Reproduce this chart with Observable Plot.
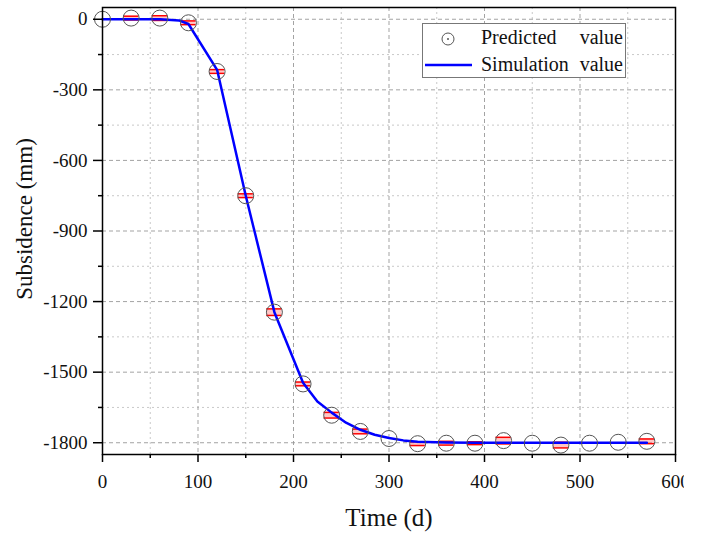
<!DOCTYPE html>
<html>
<head>
<meta charset="utf-8">
<script src="https://cdn.jsdelivr.net/npm/d3@7"></script>
<script src="https://cdn.jsdelivr.net/npm/@observablehq/plot@0.6"></script>
<style>
  body { margin: 0; background: #fff; }
  #wrap { position: relative; width: 684px; height: 544px; overflow: hidden; font-family: "Liberation Serif", "Times New Roman", serif; }
  #chart { width: 706px; height: 544px; }
  #chart svg { max-width: none !important; }
  #legend { position: absolute; left: 422px; top: 23px; width: 204px; height: 55px; border: 1px solid #777; background: #fff; box-sizing: border-box; }
  .lrow { position: absolute; left: 0; font-size: 20px; color: #111; white-space: pre; }
</style>
</head>
<body>
<div id="wrap">
  <div id="chart"></div>
  <div id="legend">
    <svg width="204" height="55" style="position:absolute;left:0;top:0">
      <circle cx="25" cy="15" r="6" fill="none" stroke="#555" stroke-width="1"></circle>
      <circle cx="25" cy="15" r="1" fill="#555"></circle>
      <line x1="2" x2="49" y1="41" y2="41" stroke="#0000ff" stroke-width="2.5"></line>
    </svg>
    <div class="lrow" style="left:58px;top:2px;width:142px;display:flex;justify-content:space-between"><span>Predicted</span><span>value</span></div>
    <div class="lrow" style="left:58px;top:29px;width:142px;display:flex;justify-content:space-between"><span>Simulation</span><span>value</span></div>
  </div>
</div>
<script>
// Data
const times = [0, 30, 60, 90, 120, 150, 180, 210, 240, 270, 300, 330, 360, 390, 420, 450, 480, 510, 540, 570];
const predicted = [0, 5, 5, -15, -222, -750, -1245, -1550, -1683, -1752, -1782, -1804, -1802, -1802, -1791, -1802, -1810, -1802, -1798, -1794];
const errorHalf = [0, 8, 10, 8, 8, 8, 14, 8, 12, 10, 0, 8, 8, 6, 14, 0, 12, 0, 0, 10];
const simTimes = [0, 30, 60, 80, 90, 120, 150, 180, 210, 225, 240, 255, 270, 285, 300, 315, 330, 360, 390, 420, 450, 480, 510, 540, 570];
const simulation = [0, 0, 0, -5, -20, -215, -750, -1245, -1545, -1625, -1672, -1715, -1745, -1766, -1780, -1790, -1796, -1799, -1800, -1800, -1800, -1800, -1800, -1800, -1800];
const xMajor = [0, 100, 200, 300, 400, 500, 600];
const xMinor = [50, 150, 250, 350, 450, 550];
const yMajor = [0, -300, -600, -900, -1200, -1500, -1800];
const yMinor = [-150, -450, -750, -1050, -1350, -1650];

const pts = times.map((t, i) => ({t, v: predicted[i], e: errorHalf[i]}));
const sim = simTimes.map((t, i) => ({t, v: simulation[i]}));
const errPts = pts.filter(d => d.e > 0);
const barHalfW = 8;
const serif = "Liberation Serif";

const chart = Plot.plot({
  width: 706,
  height: 544,
  marginLeft: 102,
  marginRight: 31,
  marginTop: 7,
  marginBottom: 90,
  style: {fontFamily: serif, fontSize: "19px", color: "#111", background: "#fff", maxWidth: "none"},
  x: {domain: [0, 600]},
  y: {domain: [-1850, 50]},
  marks: [
    Plot.gridX(xMinor, {stroke: "#bbb", strokeOpacity: 1, strokeDasharray: "2,3", strokeWidth: 0.8}),
    Plot.gridY(yMinor, {stroke: "#bbb", strokeOpacity: 1, strokeDasharray: "2,3", strokeWidth: 0.8}),
    Plot.gridX(xMajor, {stroke: "#999", strokeOpacity: 1, strokeDasharray: "4,3", strokeWidth: 0.9}),
    Plot.gridY(yMajor, {stroke: "#999", strokeOpacity: 1, strokeDasharray: "4,3", strokeWidth: 0.9}),
    Plot.rect(errPts, {x1: d => d.t - barHalfW, x2: d => d.t + barHalfW, y1: d => d.v - d.e, y2: d => d.v + d.e, fill: "#ff8080", fillOpacity: 0.45}),
    Plot.ruleY(errPts, {x1: d => d.t - barHalfW, x2: d => d.t + barHalfW, y: d => d.v - d.e, stroke: "#ff0000", strokeWidth: 1.5}),
    Plot.ruleY(errPts, {x1: d => d.t - barHalfW, x2: d => d.t + barHalfW, y: d => d.v + d.e, stroke: "#ff0000", strokeWidth: 1.5}),
    Plot.line(sim, {x: "t", y: "v", stroke: "#0000ff", strokeWidth: 2.5, curve: "linear"}),
    Plot.dot(pts, {x: "t", y: "v", r: 8, stroke: "#555", strokeWidth: 1, fill: "none"}),
    Plot.frame({stroke: "#000", strokeWidth: 1.5}),
    Plot.axisX({ticks: xMajor, tickSize: 8, tickPadding: 12, tickFormat: d => String(d), label: null, stroke: "#000", strokeWidth: 1.5, fill: "#111", fontFamily: serif, fontSize: 19}),
    Plot.axisX({ticks: xMinor, tickSize: 4, tickFormat: () => "", label: null, stroke: "#000", strokeWidth: 1.5}),
    Plot.axisY({ticks: yMajor, tickSize: 9, tickPadding: 6, tickFormat: d => String(d), label: null, stroke: "#000", strokeWidth: 1.5, fill: "#111", fontFamily: serif, fontSize: 19}),
    Plot.axisY({ticks: yMinor, tickSize: 4, tickFormat: () => "", label: null, stroke: "#000", strokeWidth: 1.5}),
    Plot.text(["Subsidence (mm)"], {frameAnchor: "left", textAnchor: "middle", dx: -78, dy: -12, rotate: -90, fontSize: 23, fontFamily: serif, fill: "#111", lineAnchor: "middle"}),
    Plot.text(["Time (d)"], {frameAnchor: "bottom", textAnchor: "middle", dy: 63, fontSize: 25, fontFamily: serif, fill: "#111", lineAnchor: "middle"})
  ]
});
document.getElementById("chart").appendChild(chart);
</script>
</body>
</html>
